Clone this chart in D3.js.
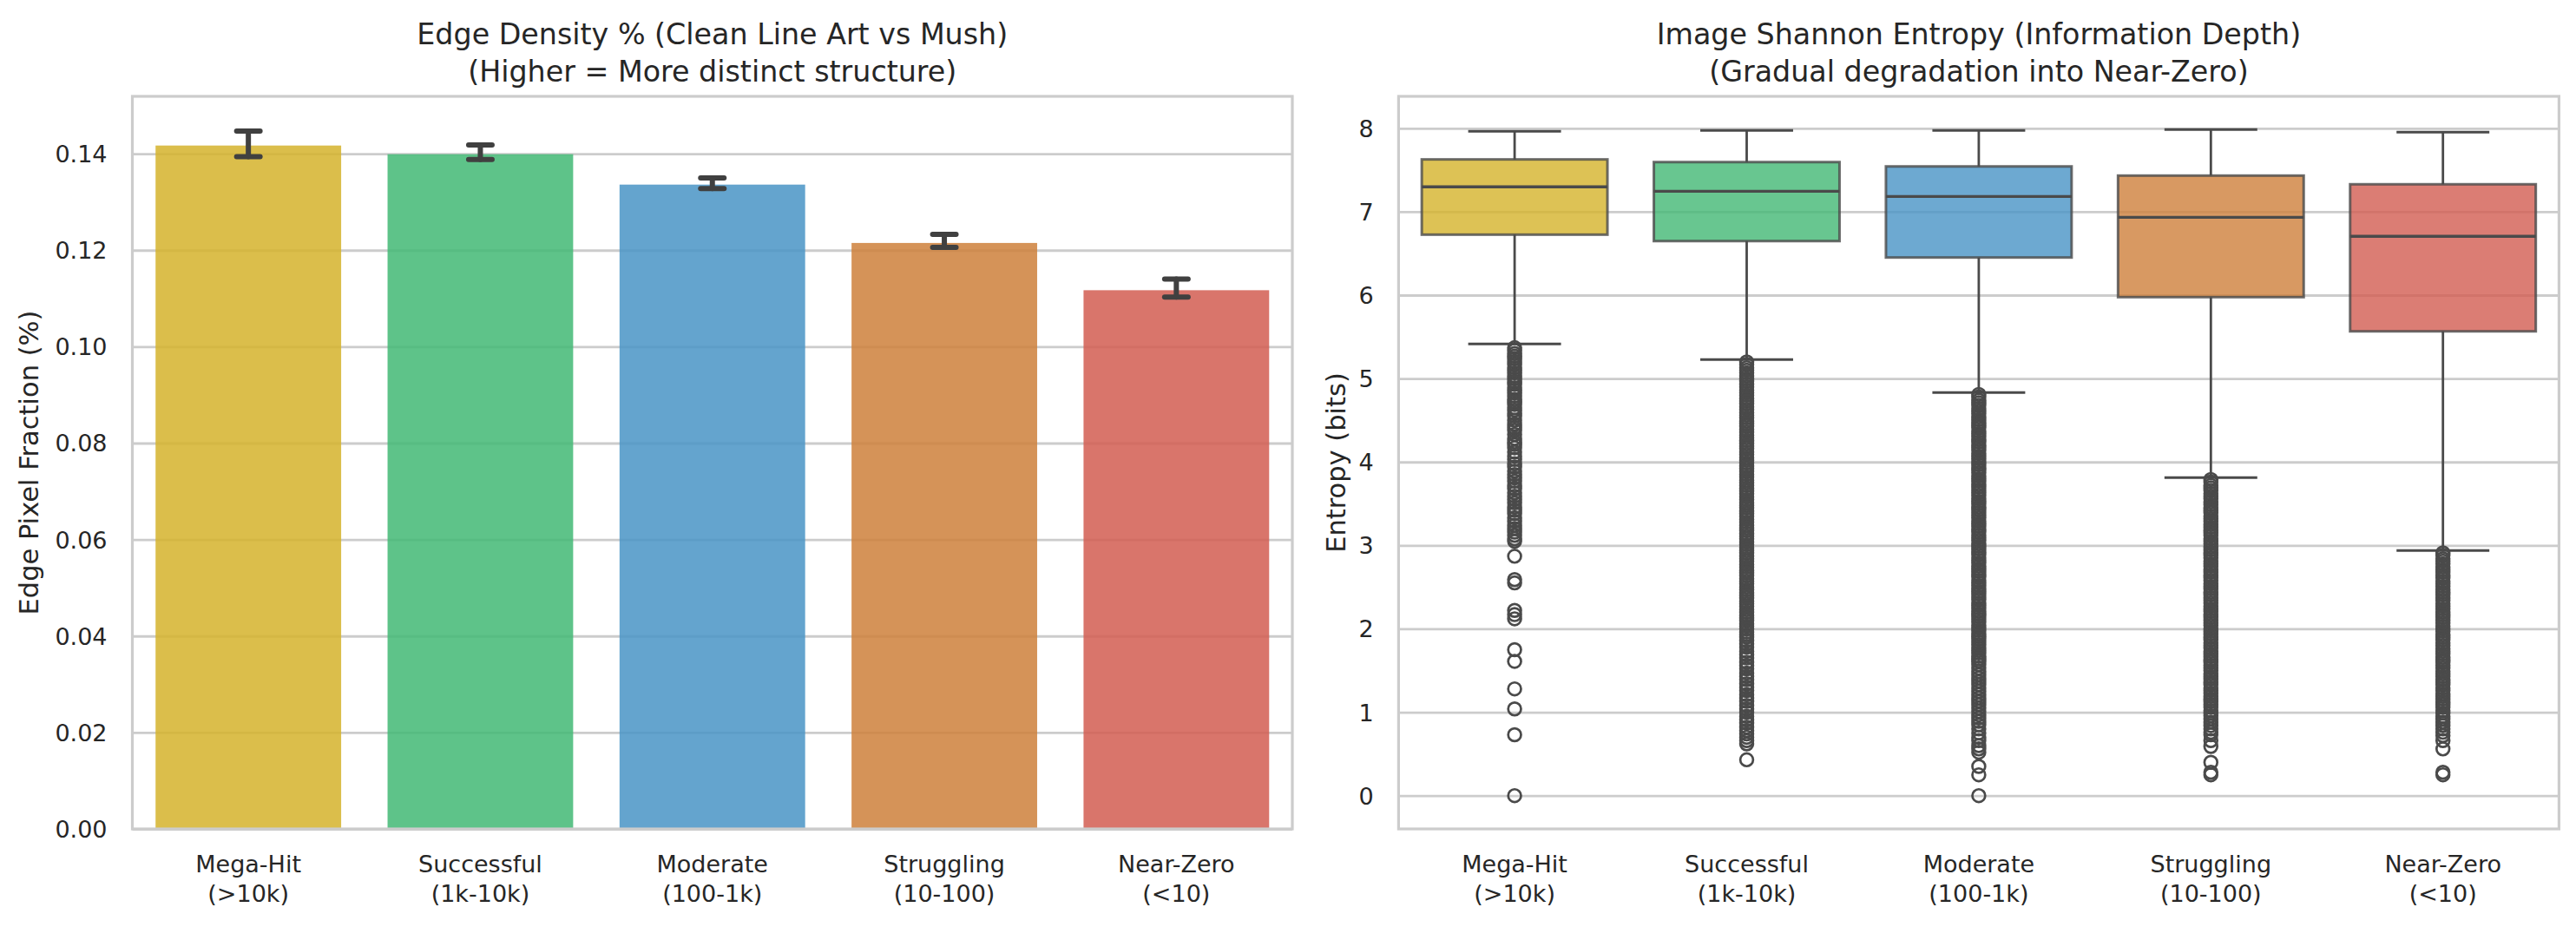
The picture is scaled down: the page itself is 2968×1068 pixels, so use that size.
<!DOCTYPE html>
<html>
<head>
<meta charset="utf-8">
<script src="https://cdn.jsdelivr.net/npm/d3@7"></script>
<style>
  html, body { margin: 0; padding: 0; background: #ffffff; }
  svg { display: block; }
  text { font-family: "DejaVu Sans", sans-serif; fill: #262626; }
</style>
</head>
<body>
<svg id="chart" width="2968" height="1068"></svg>
<script>
// ---------------- DATA ----------------
const categories = ["Mega-Hit", "Successful", "Moderate", "Struggling", "Near-Zero"];
const categoryRanges = ["(>10k)", "(1k-10k)", "(100-1k)", "(10-100)", "(<10)"];
const palette = ["#d5b32b", "#42b874", "#4994c6", "#ce803b", "#d25d51"];

// Left panel: mean edge density with confidence interval
const edgeDensity = [0.1417, 0.1399, 0.1336, 0.1215, 0.1117];
const edgeCiLow   = [0.1394, 0.1388, 0.1328, 0.1206, 0.1103];
const edgeCiHigh  = [0.1447, 0.1418, 0.1350, 0.1233, 0.1140];
const edgeTicks = [0.00, 0.02, 0.04, 0.06, 0.08, 0.10, 0.12, 0.14];

// Right panel: entropy box statistics
const entropyWhiskerHigh = [7.964, 7.974, 7.974, 7.984, 7.953];
const entropyQ3          = [7.627, 7.595, 7.543, 7.433, 7.329];
const entropyMedian      = [7.298, 7.245, 7.183, 6.933, 6.705];
const entropyQ1          = [6.725, 6.648, 6.451, 5.976, 5.566];
const entropyWhiskerLow  = [5.414, 5.227, 4.831, 3.812, 2.938];
const entropyTicks = [0, 1, 2, 3, 4, 5, 6, 7, 8];

// Outliers
const outliersMegaHit = [5.37,5.34,5.30,5.27,5.24,5.20,5.17,5.13,5.10,5.07,5.03,5.00,4.96,4.93,4.89,4.86,4.83,4.79,4.75,4.72,4.69,4.65,4.62,4.58,4.55,
  4.50,4.45,4.41,4.38,4.33,4.28,4.24,4.21,4.17,4.12,4.07,4.03,3.98,3.94,3.89,3.85,3.81,3.77,3.72,3.68,3.63,3.59,3.55,3.51,3.46,3.42,3.38,3.33,3.29,3.24,3.20,3.16,3.12,3.08,3.05,
  2.87,2.59,2.55,2.22,2.17,2.12,1.75,1.61,1.28,1.04,0.73,0.00];
const outliersSuccessful = [5.20,5.17,5.13,5.10,5.07,5.03,5.00,4.97,4.93,4.90,4.86,4.83,4.80,4.76,4.73,4.70,4.66,4.63,4.59,4.56,4.53,4.49,4.46,4.43,4.39,4.36,4.32,4.29,4.26,4.22,4.19,4.16,4.12,4.09,4.05,4.02,3.99,3.95,3.92,3.89,3.85,3.82,3.78,3.75,3.72,3.68,3.65,3.62,3.58,3.55,3.51,3.48,3.45,3.41,3.38,3.35,3.31,3.28,3.24,3.21,3.18,3.14,3.11,3.08,3.04,3.01,2.97,2.94,2.91,2.87,2.84,2.81,2.77,2.74,2.70,2.67,2.64,2.60,2.57,2.54,2.50,2.47,2.43,2.40,2.37,2.33,2.30,2.27,2.23,2.20,2.16,2.13,2.10,2.06,2.03,2.00,1.96,1.93,1.90,
  1.86,1.82,1.78,1.73,1.69,1.65,1.60,1.56,1.52,1.47,1.43,1.39,1.34,1.30,1.26,1.21,1.17,1.13,1.08,1.04,1.00,0.95,0.91,0.87,0.82,0.78,0.74,0.70,0.66,0.62,0.43];
const outliersModerate = [4.81,4.78,4.74,4.71,4.68,4.64,4.61,4.58,4.54,4.51,4.47,4.44,4.41,4.37,4.34,4.31,4.27,4.24,4.20,4.17,4.14,4.10,4.07,4.04,4.00,3.97,3.93,3.90,3.87,3.83,3.80,3.77,3.73,3.70,3.66,3.63,3.60,3.56,3.53,3.50,3.46,3.43,3.39,3.36,3.33,3.29,3.26,3.23,3.19,3.16,3.12,3.09,3.06,3.02,2.99,2.96,2.92,2.89,2.85,2.82,2.79,2.75,2.72,2.69,2.65,2.62,2.58,2.55,2.52,2.48,2.45,2.42,2.38,2.35,2.31,2.28,2.25,2.21,2.18,2.15,2.11,2.08,2.04,2.01,1.98,1.94,1.91,1.88,1.84,1.81,1.77,1.74,1.71,1.67,1.64,1.61,1.57,
  1.53,1.49,1.45,1.41,1.37,1.33,1.29,1.25,1.21,1.17,1.13,1.09,1.05,1.01,0.97,0.93,0.89,0.85,0.80,0.75,0.70,0.66,0.60,0.56,0.52,0.35,0.25,0.00];
const outliersStruggling = [3.79,3.76,3.72,3.69,3.66,3.62,3.59,3.56,3.52,3.49,3.45,3.42,3.39,3.35,3.32,3.29,3.25,3.22,3.18,3.15,3.12,3.08,3.05,3.02,2.98,2.95,2.91,2.88,2.85,2.81,2.78,2.75,2.71,2.68,2.64,2.61,2.58,2.54,2.51,2.48,2.44,2.41,2.37,2.34,2.31,2.27,2.24,2.21,2.17,2.14,2.10,2.07,2.04,2.00,1.97,1.94,1.90,1.87,1.83,1.80,1.77,1.73,1.70,1.67,1.63,1.60,1.56,1.53,1.50,1.46,1.43,1.40,1.36,1.33,1.29,1.26,1.23,1.19,1.16,1.13,1.09,1.06,1.02,0.99,0.96,0.92,0.88,0.84,0.80,0.76,0.73,0.66,0.59,0.40,0.28,0.25];
const outliersNearZero = [2.91,2.88,2.84,2.81,2.78,2.74,2.71,2.68,2.64,2.61,2.57,2.54,2.51,2.47,2.44,2.41,2.37,2.34,2.30,2.27,2.24,2.20,2.17,2.14,2.10,2.07,2.03,2.00,1.97,1.93,1.90,1.87,1.83,1.80,1.76,1.73,1.70,1.66,1.63,1.60,1.56,1.53,1.49,1.46,1.43,1.39,1.36,1.33,1.29,1.26,1.22,1.19,1.16,1.12,1.09,1.06,1.02,0.99,0.95,0.92,0.88,0.84,0.80,0.76,0.72,0.66,0.56,0.28,0.25];
const entropyOutliers = [outliersMegaHit, outliersSuccessful, outliersModerate, outliersStruggling, outliersNearZero];

const leftTitle = ["Edge Density % (Clean Line Art vs Mush)", "(Higher = More distinct structure)"];
const rightTitle = ["Image Shannon Entropy (Information Depth)", "(Gradual degradation into Near-Zero)"];
const leftYLabel = "Edge Pixel Fraction (%)";
const rightYLabel = "Entropy (bits)";

// ---------------- LAYOUT ----------------
const svg = d3.select("#chart");
svg.append("rect").attr("width", 2968).attr("height", 1068).attr("fill", "#ffffff");

const plotTop = 111, plotBottom = 955;
const panels = [
  { x0: 152.5, x1: 1489.0, ylabelX: 43.5, tickPad: 29 },
  { x0: 1611.4, x1: 2948.4, ylabelX: 1549.5, tickPad: 28.7 }
];
const gridColor = "#cccccc";
const lineColor = "#4a4a4a";

function drawFrame(p, yScale, ticks, fmt, title, ylabel) {
  const g = svg.append("g");
  const axis = d3.axisLeft(yScale).tickValues(ticks).tickFormat(fmt)
    .tickSizeInner(-(p.x1 - p.x0)).tickSizeOuter(0).tickPadding(p.tickPad);
  const ag = g.append("g").attr("transform", `translate(${p.x0},0)`).call(axis);
  ag.select(".domain").remove();
  ag.selectAll(".tick line").attr("stroke", gridColor).attr("stroke-width", 2.8);
  ag.selectAll(".tick text").attr("font-size", "27px").attr("fill", "#262626")
    .attr("font-family", "DejaVu Sans, sans-serif").attr("dy", "0.35em");
  const cx = (p.x0 + p.x1) / 2;
  svg.append("text").attr("x", cx).attr("y", 50.7).attr("text-anchor", "middle")
    .attr("font-size", "33.3px").text(title[0]);
  svg.append("text").attr("x", cx).attr("y", 94.3).attr("text-anchor", "middle")
    .attr("font-size", "33.3px").text(title[1]);
  svg.append("text").attr("transform", `translate(${p.ylabelX},${(plotTop + plotBottom) / 2}) rotate(-90)`)
    .attr("text-anchor", "middle").attr("font-size", "30.5px").text(ylabel);
  return g;
}

function drawSpines(p) {
  svg.append("rect").attr("x", p.x0).attr("y", plotTop).attr("width", p.x1 - p.x0).attr("height", plotBottom - plotTop)
    .attr("fill", "none").attr("stroke", gridColor).attr("stroke-width", 3.2);
}

function drawXLabels(p, xScale) {
  const g = svg.append("g");
  categories.forEach((c, i) => {
    const cx = xScale(c) + xScale.bandwidth() / 2;
    g.append("text").attr("x", cx).attr("y", 1005).attr("text-anchor", "middle")
      .attr("font-size", "27px").text(c);
    g.append("text").attr("x", cx).attr("y", 1038.5).attr("text-anchor", "middle")
      .attr("font-size", "27px").text(categoryRanges[i]);
  });
}

// ---------------- LEFT: bar chart ----------------
{
  const p = panels[0];
  const x = d3.scaleBand().domain(categories).range([p.x0, p.x1]).paddingInner(0).paddingOuter(0);
  const y = d3.scaleLinear().domain([0, 0.1519]).range([plotBottom, plotTop]);
  drawFrame(p, y, edgeTicks, d3.format(".2f"), leftTitle, leftYLabel);
  const bw = x.bandwidth() * 0.8;
  const g = svg.append("g");
  g.selectAll("rect.bar").data(categories).join("rect").attr("class", "bar")
    .attr("x", c => x(c) + (x.bandwidth() - bw) / 2)
    .attr("width", bw)
    .attr("y", (c, i) => y(edgeDensity[i]))
    .attr("height", (c, i) => y(0) - y(edgeDensity[i]))
    .attr("fill", (c, i) => palette[i]).attr("fill-opacity", 0.85);
  categories.forEach((c, i) => {
    const cx = x(c) + x.bandwidth() / 2;
    const e = g.append("g").attr("stroke", "#404040").attr("stroke-width", 6).attr("stroke-linecap", "round");
    e.append("line").attr("x1", cx).attr("x2", cx).attr("y1", y(edgeCiLow[i])).attr("y2", y(edgeCiHigh[i]));
    e.append("line").attr("x1", cx - 13.5).attr("x2", cx + 13.5).attr("y1", y(edgeCiHigh[i])).attr("y2", y(edgeCiHigh[i]));
    e.append("line").attr("x1", cx - 13.5).attr("x2", cx + 13.5).attr("y1", y(edgeCiLow[i])).attr("y2", y(edgeCiLow[i]));
  });
  drawSpines(p);
  drawXLabels(p, x);
}

// ---------------- RIGHT: box plot ----------------
{
  const p = panels[1];
  const x = d3.scaleBand().domain(categories).range([p.x0, p.x1]).paddingInner(0).paddingOuter(0);
  const y = d3.scaleLinear().domain([-0.399, 8.383]).range([plotBottom, plotTop]);
  drawFrame(p, y, entropyTicks, d3.format("d"), rightTitle, rightYLabel);
  const bw = x.bandwidth() * 0.8;
  const capW = bw / 2;
  const g = svg.append("g");
  categories.forEach((c, i) => {
    const cx = x(c) + x.bandwidth() / 2;
    const bg = g.append("g");
    bg.append("rect").attr("x", cx - bw / 2).attr("width", bw)
      .attr("y", y(entropyQ3[i])).attr("height", y(entropyQ1[i]) - y(entropyQ3[i]))
      .attr("fill", palette[i]).attr("fill-opacity", 0.8)
      .attr("stroke", lineColor).attr("stroke-opacity", 0.8).attr("stroke-width", 3);
    bg.append("line").attr("x1", cx).attr("x2", cx).attr("y1", y(entropyQ3[i])).attr("y2", y(entropyWhiskerHigh[i]))
      .attr("stroke", lineColor).attr("stroke-width", 2.8);
    bg.append("line").attr("x1", cx).attr("x2", cx).attr("y1", y(entropyQ1[i])).attr("y2", y(entropyWhiskerLow[i]))
      .attr("stroke", lineColor).attr("stroke-width", 2.8);
    [entropyWhiskerHigh[i], entropyWhiskerLow[i]].forEach(v => {
      bg.append("line").attr("x1", cx - capW / 2).attr("x2", cx + capW / 2).attr("y1", y(v)).attr("y2", y(v))
        .attr("stroke", lineColor).attr("stroke-width", 3);
    });
    bg.append("line").attr("x1", cx - bw / 2).attr("x2", cx + bw / 2)
      .attr("y1", y(entropyMedian[i])).attr("y2", y(entropyMedian[i]))
      .attr("stroke", lineColor).attr("stroke-width", 3.3);
    bg.selectAll("circle").data(entropyOutliers[i]).join("circle")
      .attr("cx", cx).attr("cy", d => y(d)).attr("r", 7.4)
      .attr("fill", "none").attr("stroke", lineColor).attr("stroke-width", 2.7);
  });
  drawSpines(p);
  drawXLabels(p, x);
}
</script>
</body>
</html>
